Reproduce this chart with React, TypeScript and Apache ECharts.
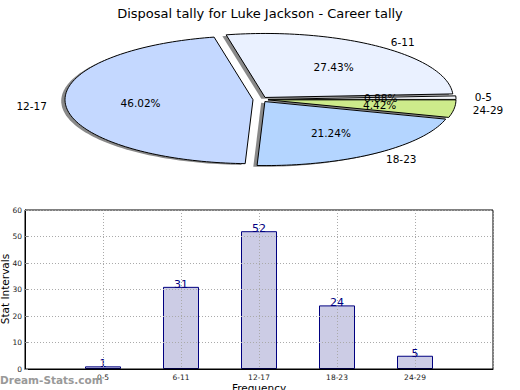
import React, { useEffect, useRef } from "react";
import * as echarts from "echarts";

const TITLE = "Disposal tally for Luke Jackson - Career tally";
const categories = ["0-5", "6-11", "12-17", "18-23", "24-29"];
const tallies = [1, 31, 52, 24, 5];
const pieColors = ["#F4F6FA", "#EAF1FF", "#C4D8FF", "#B4D5FF", "#CDEB8B"];
const yTicks = [0, 10, 20, 30, 40, 50, 60];

const FONT = "DejaVu Sans";

export default function App() {
  const ref = useRef<HTMLDivElement>(null);
  useEffect(() => {
    document.body.style.margin = "0";
    const chart = echarts.init(ref.current!, null, { renderer: "svg" });
    const total = tallies.reduce((a, b) => a + b, 0);
    const CX = 260.5, CY = 99.5, RX = 188, RY = 64, EXPL = 0.04;
    const SHX = -0.02 * RX, SHY = 0.02 * RY;

    const renderItem = (params: any, api: any) => {
      const i = params.dataIndex;
      let before = 0;
      for (let k = 0; k < i; k++) before += tallies[k];
      const v = api.value(0);
      const a1 = (before / total) * 360;
      const a2 = ((before + v) / total) * 360;
      const mid = ((a1 + a2) / 2) * Math.PI / 180;
      const ox = CX + EXPL * RX * Math.cos(mid);
      const oy = CY - EXPL * RY * Math.sin(mid);
      const pts: number[][] = [[ox, oy]];
      const n = Math.max(2, Math.ceil((a2 - a1) / 1.5));
      for (let k = 0; k <= n; k++) {
        const t = (a1 + ((a2 - a1) * k) / n) * Math.PI / 180;
        pts.push([ox + RX * Math.cos(t), oy - RY * Math.sin(t)]);
      }
      const shadow = pts.map((p) => [p[0] + SHX, p[1] + SHY]);
      const px = ox + 0.6 * RX * Math.cos(mid);
      const py = oy - 0.6 * RY * Math.sin(mid);
      const lx = ox + 1.1 * RX * Math.cos(mid);
      const ly = oy - 1.1 * RY * Math.sin(mid);
      const pct = ((v / total) * 100).toFixed(2) + "%";
      return {
        type: "group",
        children: [
          { type: "polygon", shape: { points: shadow }, style: { fill: "rgba(40,40,40,0.55)" }, z2: 0, silent: true },
          { type: "polygon", shape: { points: pts }, style: { fill: pieColors[i], stroke: "#000", lineWidth: 1 }, z2: 10 },
          {
            type: "text", z2: 20,
            style: { text: pct, x: px, y: py, align: "center", verticalAlign: "middle", fontSize: 10.5, fontFamily: FONT, fill: "#000" },
          },
          {
            type: "text", z2: 20,
            style: {
              text: categories[i], x: lx, y: ly,
              align: Math.cos(mid) > 0 ? "left" : "right", verticalAlign: "middle",
              fontSize: 10.5, fontFamily: FONT, fill: "#000",
            },
          },
        ],
      };
    };

    const axisCats = ["", ...categories, ""];
    const barData: any[] = ["-", ...tallies, "-"];

    chart.setOption({
      animation: false,
      title: {
        text: TITLE, left: "center", top: 2,
        textStyle: { fontFamily: FONT, fontSize: 13, fontWeight: "normal", color: "#000" },
      },
      grid: {
        left: 25, right: 27, top: 210, bottom: 21, show: true, borderColor: "#000", borderWidth: 1,
        outerBoundsMode: "none", containLabel: false,
      },
      xAxis: {
        type: "category", data: axisCats, boundaryGap: false,
        name: "Frequency", nameLocation: "middle", nameGap: 13,
        nameTextStyle: { fontFamily: FONT, fontSize: 10.5, color: "#000" },
        axisLine: { lineStyle: { color: "#000" } },
        axisTick: { show: false },
        axisLabel: { fontFamily: FONT, fontSize: 7.5, color: "#222", margin: 4 },
        splitLine: { show: true, lineStyle: { type: [1, 2], color: "#aaa" } },
      },
      yAxis: {
        type: "value", min: 0, max: 60, interval: 10,
        axisLine: { show: true, lineStyle: { color: "#000" } },
        axisTick: { show: true, inside: true, length: 3, lineStyle: { color: "#888" } },
        axisLabel: { fontFamily: FONT, fontSize: 7.5, color: "#222", margin: 3 },
        splitLine: { show: true, lineStyle: { type: [1, 2], color: "#aaa" } },
      },
      graphic: [
        {
          type: "text", x: 5, y: 289, rotation: Math.PI / 2, z: 100,
          style: { text: "Stat Intervals", fontFamily: FONT, fontSize: 10.5, fill: "#000", align: "center", verticalAlign: "middle" },
        },
        {
          type: "text", left: 0, top: 374, z: 100,
          style: { text: "Dream-Stats.com", fontFamily: FONT, fontSize: 10.5, fontWeight: "bold", fill: "#999" },
        },
      ],
      series: [
        {
          type: "bar", data: barData, barWidth: 36, z: -1,
          itemStyle: { color: "#CCCCE5", borderColor: "#000080", borderWidth: 1 },
          label: {
            show: true, position: "top", distance: -3,
            fontFamily: FONT, fontSize: 11, color: "#000080",
          },
        },
        {
          type: "custom", coordinateSystem: "none",
          data: tallies.map((t) => [t]),
          renderItem,
        },
      ],
    });
    return () => chart.dispose();
  }, []);
  return <div ref={ref} style={{ width: 520, height: 390 }} />;
}
